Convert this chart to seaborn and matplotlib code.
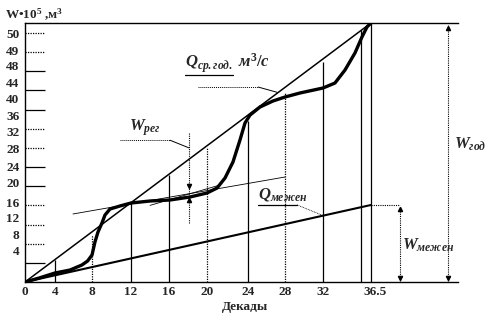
import matplotlib
matplotlib.use("Agg")
import matplotlib.pyplot as plt
import seaborn as sns
import pandas as pd

# ---------------- data ----------------
# integral (mass) curve of runoff
curve_x = [0, 1.5, 3.16, 4.75, 6.0, 6.6, 7.07, 7.38, 7.70, 8.12, 8.44, 8.97, 10.02,
           11.18, 13.19, 15.30, 17.41, 19.20, 20.26, 21.10, 21.94, 22.68, 23.21,
           23.74, 24.79, 26.16, 27.43, 29.01, 31.44, 32.70, 33.76, 34.81, 35.55,
           36.08, 36.5]
curve_w = [0, 0.84, 1.88, 2.5, 3.55, 4.38, 5.64, 8.35, 10.44, 12.32, 13.99, 15.24,
           15.87, 16.49, 16.91, 17.12, 17.75, 18.58, 19.62, 21.71, 25.05, 29.65,
           33.19, 34.86, 36.53, 37.79, 38.62, 39.46, 40.50, 41.54, 44.26, 47.81,
           51.15, 53.24, 54.07]
# mean annual discharge line and low-water line
mean_x = [0, 36.5]
mean_w = [0, 54.07]
low_x = [0, 36.5]
low_w = [0, 16.08]
# tangent lines for W_рег
tan1_x = [5.06, 27.43]
tan1_w = [14.2, 21.92]
tan2_x = [13.19, 20.57]
tan2_w = [16.0, 20.25]
# vertical decade lines
vline_x = [3.16, 7.07, 11.18, 15.19, 19.2, 23.53, 27.43, 31.44, 35.45, 36.5]
vline_top = [4.59, 9.81, 16.49, 22.34, 28.18, 33.61, 39.67, 45.93, 52.6, 54.07]
vline_dotted = [False, True, False, False, True, False, True, False, False, False]
# tick labels
xtick_pos = [0, 3.16, 7.07, 11.18, 15.19, 19.2, 23.53, 27.43, 31.44, 36.9]
xtick_labels = ["0", "4", "8", "12", "16", "20", "24", "28", "32", "36.5"]
ytick_pos = [51.98, 48.43, 45.30, 41.75, 38.41, 34.86, 31.32, 27.97, 24.01, 20.67,
             16.70, 13.57, 10.02, 6.68]
ytick_labels = ["50", "49", "48", "44", "40", "36", "32", "28", "24", "20", "16",
                "12", "8", "4"]
# short marks on the W axis
mark_y = [4, 8, 12, 16, 20, 24, 28, 32, 36, 40, 44, 48, 52]
mark_dotted = [False, True, True, True, False, False, True, True, False, False,
               False, True, True]

sns.set_style("white")
plt.rcParams['font.family'] = ['Liberation Serif', 'DejaVu Serif']
plt.rcParams['font.weight'] = 'bold'
plt.rcParams['mathtext.fontset'] = 'custom'
plt.rcParams['mathtext.rm'] = 'Liberation Serif:bold'
plt.rcParams['mathtext.it'] = 'Liberation Serif:italic:bold'
plt.rcParams['mathtext.bf'] = 'Liberation Serif:bold'

fig = plt.figure(figsize=(5.0, 3.24), dpi=100)
ax = fig.add_axes([0.05, 0.1296, 0.866, 0.7994])
XMAX, YMAX = 45.68, 54.07
ax.set_xlim(0, XMAX)
ax.set_ylim(0, YMAX)

k = 'black'
sns.lineplot(x=curve_x, y=curve_w, ax=ax, color=k, lw=2.4, sort=False, estimator=None)
sns.lineplot(x=mean_x, y=mean_w, ax=ax, color=k, lw=1.1, sort=False, estimator=None)
sns.lineplot(x=low_x, y=low_w, ax=ax, color=k, lw=1.5, sort=False, estimator=None)
sns.lineplot(x=tan1_x, y=tan1_w, ax=ax, color=k, lw=0.6, sort=False, estimator=None)
sns.lineplot(x=tan2_x, y=tan2_w, ax=ax, color=k, lw=0.6, sort=False, estimator=None)

for x, t, d in zip(vline_x, vline_top, vline_dotted):
    ax.vlines(x, 0, t, color=k, lw=0.9, linestyles=(0, (1, 1)) if d else '-')

for y, d in zip(mark_y, mark_dotted):
    ax.hlines(y, 0, 2.1, color=k, lw=0.9, linestyles=(0, (1, 1)) if d else '-')

# W_рег bracket
ax.vlines(17.3, 12.3, 31.1, color=k, lw=0.8, linestyles=(0, (1, 1)))
ax.plot([17.3], [20.0], marker='v', ms=3, color=k)
ax.plot([17.3], [17.2], marker='^', ms=3, color=k)
ax.plot([10.0, 15.3], [29.6, 29.6], color=k, lw=0.7, ls=(0, (1, 1)))
ax.plot([15.3, 17.3], [29.6, 28.0], color=k, lw=0.7)
ax.text(11.0, 30.0, r"$W_{рег}$", fontsize=12, ha='left', va='bottom')

# Q_ср.год label
ax.text(16.9, 43.3, r"$Q_{ср.год.}\ м^3/с$", fontsize=12, ha='left', va='bottom')
ax.plot([16.9, 21.9], [43.2, 43.2], color=k, lw=0.9)
ax.plot([18.2, 24.6], [40.7, 40.7], color=k, lw=0.7, ls=(0, (1, 1)))
ax.plot([24.6, 26.6], [40.7, 39.6], color=k, lw=0.7)

# Q_межен label
ax.text(24.6, 16.5, r"$Q_{межен}$", fontsize=12, ha='left', va='bottom')
ax.plot([24.6, 28.7], [16.1, 16.1], color=k, lw=0.9)
ax.plot([28.7, 31.4], [16.1, 13.9], color=k, lw=0.6, ls=(0, (1, 1)))

# W_межен arrow
ax.plot([36.5, 39.56], [16.08, 16.08], color=k, lw=0.8, ls=(0, (1, 1)))
ax.vlines(39.56, 0.3, 15.7, color=k, lw=0.8, linestyles=(0, (1, 1)))
ax.plot([39.56], [0.9], marker='v', ms=3, color=k)
ax.plot([39.56], [15.2], marker='^', ms=3, color=k)
ax.text(39.8, 5.8, r"$W_{межен}$", fontsize=12, ha='left', va='bottom')

# W_год arrow
ax.vlines(44.63, 0.3, 53.7, color=k, lw=0.8, linestyles=(0, (1, 1)))
ax.plot([44.63], [0.9], marker='v', ms=3, color=k)
ax.plot([44.63], [53.1], marker='^', ms=3, color=k)
ax.text(45.3, 27.0, r"$W_{год}$", fontsize=12, ha='left', va='bottom')

# axes styling
ax.spines['right'].set_visible(False)
for s in ['left', 'top', 'bottom']:
    ax.spines[s].set_color(k)
    ax.spines[s].set_linewidth(1.0)
ax.set_xticks(xtick_pos)
ax.set_xticklabels(xtick_labels, fontsize=9.5, fontweight='bold')
ax.set_yticks(ytick_pos)
ax.set_yticklabels(ytick_labels, fontsize=9.5, fontweight='bold')
ax.tick_params(axis='both', length=0, pad=3)
ax.tick_params(axis='y', pad=4)
ax.set_xlabel("Декады", fontsize=9.5, fontweight='bold')
ax.xaxis.set_label_coords((245 / 500 - 0.05) / 0.866, -0.075)
fig.text(0.01, 0.978, r"W•10$^{5}$ ,м$^{3}$", fontsize=9.5, fontweight='bold',
         ha='left', va='top')

fig.savefig("out.png", dpi=100)
